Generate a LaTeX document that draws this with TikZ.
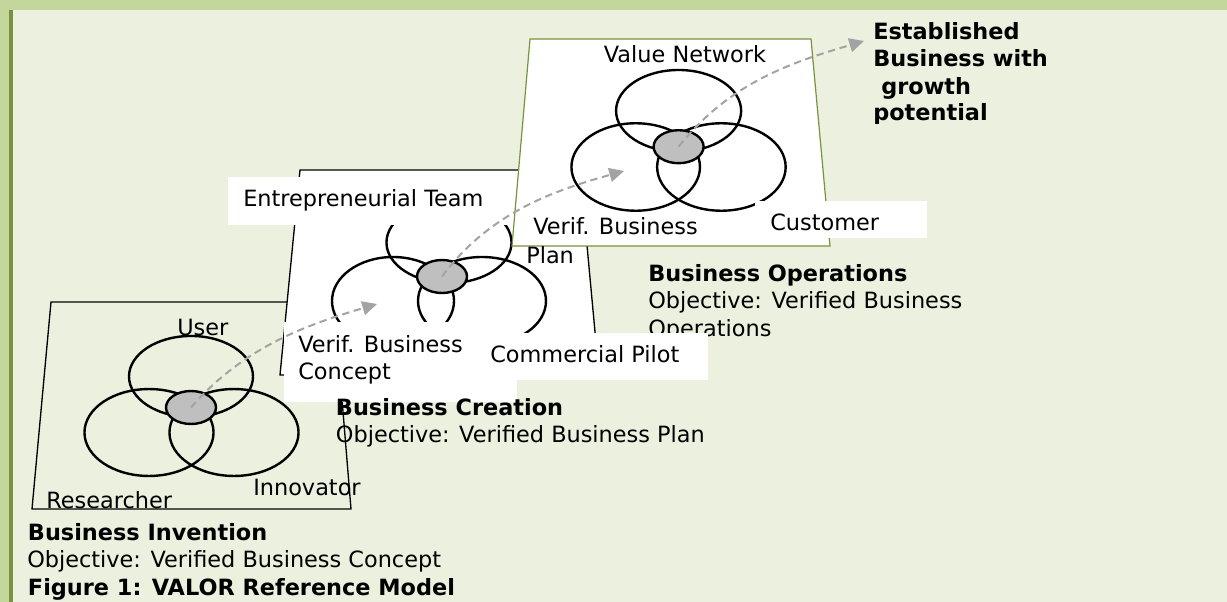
\documentclass[tikz,border=0pt]{standalone}
\usepackage{fontspec}
\setmainfont{DejaVu Sans}
\usetikzlibrary{arrows.meta,shapes.geometric}
\definecolor{bandgreen}{HTML}{C3D69B}
\definecolor{panegreen}{HTML}{EBF1DE}
\definecolor{bargreen}{HTML}{77933C}
\definecolor{overlapgrey}{HTML}{BFBFBF}
\definecolor{pathgrey}{HTML}{A3A3A3}
\begin{document}
\begin{tikzpicture}[x=0.75pt,y=-0.75pt,
  txt/.style={anchor=base west,inner sep=0pt,font=\fontsize{16.8}{20.25}\selectfont},
  boldtxt/.style={anchor=base west,inner sep=0pt,font=\fontsize{16.8}{20.25}\selectfont\bfseries},
  frame/.style={line width=1pt,line join=miter},
  ring/.style={line width=1.8pt},
  core/.style={ellipse,draw,line width=1.8pt,fill=overlapgrey,inner sep=0pt,
    minimum width=37.5pt,minimum height=24.75pt},
  growth/.style={draw=pathgrey,line width=1.5pt,dash pattern=on 5.5pt off 3.5pt,
    -{Triangle[length=11pt,width=10.5pt,fill=pathgrey]}},
]
% page background, top band and left bar
\fill[bandgreen] (0,0) rectangle (1227,602);
\fill[panegreen] (13,10) rectangle (1227,602);
\fill[bargreen] (9,10) rectangle (13,602);
\useasboundingbox (0,0) rectangle (1227,602);

% stage 1: Business Invention
\draw[frame] (51,302) -- (334,302) -- (351,509) -- (32,509) -- cycle;
\draw[ring] (191,376.5) ellipse [x radius=46.5pt, y radius=30.4pt];
\draw[ring] (149,432.5) ellipse [x radius=48.4pt, y radius=32.6pt];
\draw[ring] (234,432.5) ellipse [x radius=48.4pt, y radius=32.6pt];
\node[core] (g1) at (191,407.5) {};

% stage 2: Business Creation
\filldraw[frame,fill=white] (300,170) -- (580,170) -- (599,375) -- (280,375) -- cycle;
\draw[ring] (449,242.5) ellipse [x radius=46.9pt, y radius=30.4pt];
\draw[ring] (393,301) ellipse [x radius=45.75pt, y radius=33pt];
\draw[ring] (482,301) ellipse [x radius=48pt, y radius=33pt];
\node[core] (g2) at (442,276.5) {};

% stage 3 caption (partly covered by the pilot label)
\node[boldtxt] (opshead) at (648,281.7) {Business Operations};
\node[txt] (opsobj1) at (648,308) {Objective: Verified Business};
\node[txt] (opsobj2) at (648,336) {Operations};

% white label boxes of stage 2
\fill[white] (228,176.7) rectangle (517,225);
\node[txt] (team) at (243,206.7) {Entrepreneurial Team};
\fill[white] (284,322) rectangle (517,402);
\fill[white] (500,333) rectangle (708,380);
\node[txt] (concept1) at (298,352.7) {Verif. Business};
\node[txt] (concept2) at (298,379) {Concept};
\node[txt] (pilot) at (490,362.7) {Commercial Pilot};

% stage 3: Business Operations
\filldraw[line width=0.9pt,draw=bargreen,fill=white] (530,39) -- (811,39) -- (830,246) -- (512,246) -- cycle;
\node[txt] (valnet) at (603.6,62.7) {Value Network};
\draw[ring] (678.6,110.8) ellipse [x radius=46.9pt, y radius=30.6pt];
\draw[ring] (635.7,167) ellipse [x radius=48.2pt, y radius=32.8pt];
\draw[ring] (721.4,167) ellipse [x radius=48.2pt, y radius=32.8pt];
\node[core] (g3) at (678.6,146.7) {};
\fill[white] (755,201) rectangle (927,238);
\node[txt] (customer) at (770,231) {Customer};
\node[txt] (plan1) at (533,234) {Verif. Business};
\node[txt] (plan2) at (526,263) {Plan};

% stage 1 labels
\node[txt] (user) at (177,335) {User};
\node[txt] (researcher) at (46,508) {Researcher};
\node[txt] (innovator) at (253,495) {Innovator};

% stage 2 caption
\node[boldtxt] (crehead) at (335.7,415.7) {Business Creation};
\node[txt] (creobj) at (335.7,442.7) {Objective: Verified Business Plan};

% stage 1 caption and figure title
\node[boldtxt] (invhead) at (27.7,540.7) {Business Invention};
\node[txt] (invobj) at (27,567.7) {Objective: Verified Business Concept};
\node[boldtxt] (figtitle) at (27.7,595) {Figure 1: VALOR Reference Model};

% outcome text, cut off at the bottom of its box
\begin{scope}
\clip (860,12) rectangle (1100,123.3);
\node[boldtxt] (est1) at (873,39.3) {Established};
\node[boldtxt] (est2) at (873,66.7) {Business with};
\node[boldtxt] (est3) at (881,94.3) {growth};
\node[boldtxt] (est4) at (873,121) {potential};
\end{scope}

% progression arrows between the stages
\coordinate (t1) at (377,304);
\coordinate (t2) at (624,171);
\coordinate (t3) at (864,41);
\draw[growth] (g1.center) .. controls (243,347.5) and (306,325) .. (t1);
\draw[growth] (g2.center) .. controls (489,213.5) and (552,191) .. (t2);
\draw[growth] (g3.center) .. controls (730,82) and (793,62) .. (t3);
\end{tikzpicture}
\end{document}
